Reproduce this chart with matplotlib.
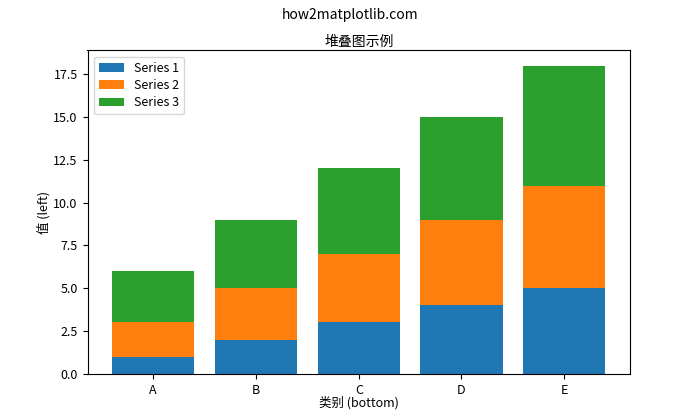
import numpy as np
import matplotlib.pyplot as plt

plt.rcParams['font.family'] = ['Noto Sans CJK SC', 'DejaVu Sans']
plt.rcParams['font.size'] = 9
plt.rcParams['axes.unicode_minus'] = False

categories = ['A', 'B', 'C', 'D', 'E']
series1 = [1, 2, 3, 4, 5]
series2 = [2, 3, 4, 5, 6]
series3 = [3, 4, 5, 6, 7]

fig, ax = plt.subplots(figsize=(7, 4.2), dpi=100)

ax.bar(categories, series1, label='Series 1')
ax.bar(categories, series2, bottom=series1, label='Series 2')
ax.bar(categories, series3, bottom=np.add(series1, series2), label='Series 3')

ax.set_title('堆叠图示例', fontsize=10, pad=3)
ax.set_xlabel('类别 (bottom)', labelpad=0)
ax.set_ylabel('值 (left)', labelpad=2)
ax.legend(loc='upper left', labelspacing=0.35)
fig.suptitle('how2matplotlib.com', fontsize=10, y=0.98)

fig.savefig('out.png')
